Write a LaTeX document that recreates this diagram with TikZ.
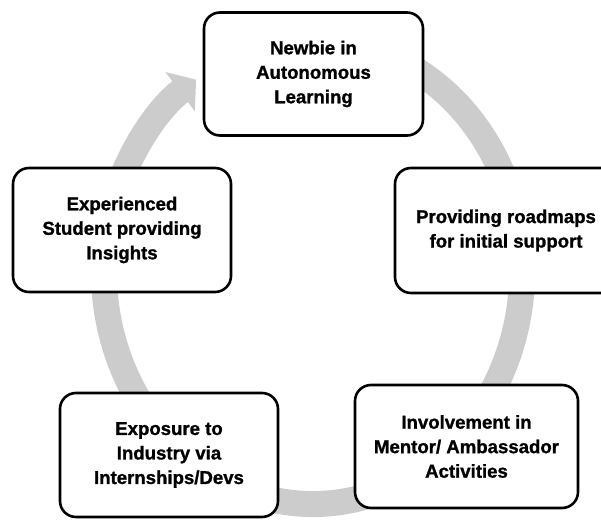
\documentclass[tikz,border=0pt]{standalone}
\usepackage{fontspec}
\setmainfont{Liberation Sans}[BoldFeatures={FakeBold=1.2}]
\usetikzlibrary{arrows.meta}

\begin{document}
\begin{tikzpicture}[
      x=1pt, y=1pt,
      stage/.style={draw, fill=white, line width=2.6pt, rounded corners=16pt,
                    minimum width=219pt, minimum height=123pt, align=center,
                    font=\bfseries\fontsize{18.6}{24.5}\selectfont},
      cycle/.style={draw=black!20, line width=26pt,
                    -{Triangle[length=20pt, width=48pt]}},
  ]
    \clip (0,0) rectangle (601,519);

    %% --- Grey cycle arrow behind the stages ---
    \coordinate (hub) at (313,247);
    \draw[cycle] (hub) ++(70:209pt and 232pt)
      arc[start angle=70, end angle=-236, x radius=209pt, y radius=232pt];

    %% --- Stages ---
    \node[stage] (newbie) at (313.5,445) {Newbie in\\Autonomous\\Learning};
    \node[stage, minimum width=222pt, minimum height=125pt] (roadmaps) at (506,288.5)
      {Providing roadmaps\\for initial support};
    \node[stage, minimum width=223pt] (mentor) at (466.5,72.5)
      {Involvement in\\Mentor/ Ambassador\\Activities};
    \node[stage, minimum width=218pt, minimum height=124pt] (industry) at (169,64)
      {Exposure to\\Industry via\\Internships/Devs};
    \node[stage, minimum width=218pt, minimum height=124pt] (insights) at (122,289)
      {Experienced\\Student providing\\Insights};
  \end{tikzpicture}
\end{document}
